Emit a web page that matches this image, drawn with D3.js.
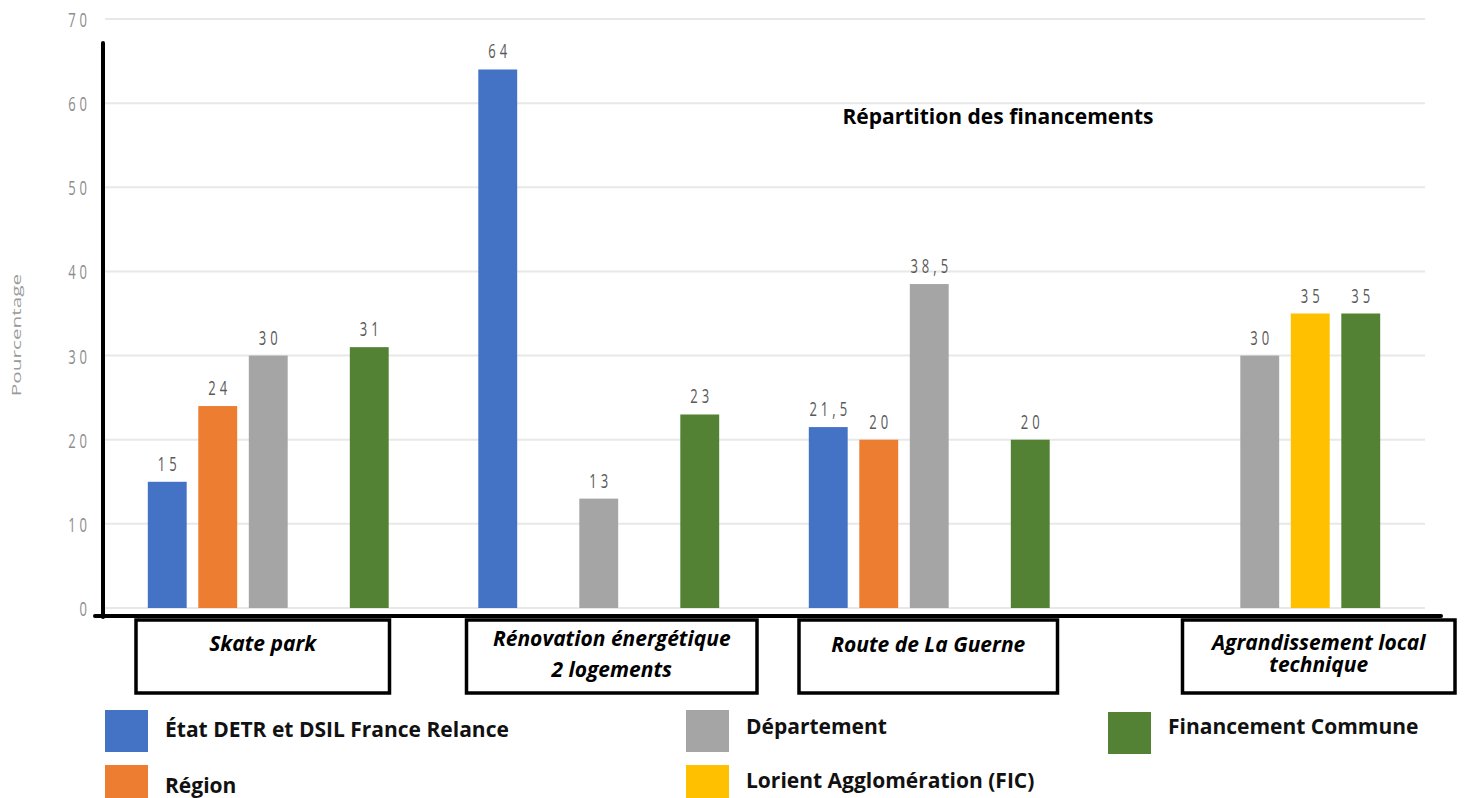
<!DOCTYPE html>
<html><head><meta charset="utf-8">
<script src="https://cdn.jsdelivr.net/npm/d3@7/dist/d3.min.js"></script>
<style>
html,body{margin:0;padding:0;background:#fff;}
svg{display:block;font-family:"Open Sans",sans-serif;}
</style></head>
<body><svg id="c" width="1469" height="798"></svg>
<script>
// ---- data ----
const categories = ["Skate park", "Rénovation énergétique|2 logements", "Route de La Guerne", "Agrandissement local|technique"];
const seriesNames = ["État DETR et DSIL France Relance", "Région", "Département", "Lorient Agglomération (FIC)", "Financement Commune"];
const etat = [15, 64, 21.5, null];
const region = [24, null, 20, null];
const departement = [30, 13, 38.5, 30];
const lorient = [null, null, null, 35];
const commune = [31, 23, 20, 35];
const yTicks = [0, 10, 20, 30, 40, 50, 60, 70];
const seriesColors = ["#4472C4", "#ED7D31", "#A5A5A5", "#FFC000", "#548235"];
const title = "Répartition des financements";
const yTitle = "Pourcentage";

// ---- layout ----
const svg = d3.select("#c");
const values = [etat, region, departement, lorient, commune];
const x0 = d3.scaleBand().domain(categories).range([103, 1425]).paddingInner(0.236).paddingOuter(0.118);
const x1 = d3.scaleBand().domain(seriesNames).range([0, x0.bandwidth()]).paddingInner(0.23).paddingOuter(0.115);
const y = d3.scaleLinear().domain([0, 70]).range([608, 19]);
const color = d3.scaleOrdinal().domain(seriesNames).range(seriesColors);
const STRETCH = 1.6; // small chart texts are vertically stretched in the reference

// gridlines
svg.append("g").selectAll("line").data(yTicks).join("line")
  .attr("x1", 105).attr("x2", 1425)
  .attr("y1", d => y(d)).attr("y2", d => y(d))
  .attr("stroke", "#e8e8e8").attr("stroke-width", 2);

// tick labels (axis generator for positions)
const yAxis = d3.axisLeft(y).tickValues(yTicks).tickSize(0).tickPadding(0).tickFormat(d3.format("d"));
const ya = svg.append("g").attr("transform", "translate(91,0)").call(yAxis);
ya.select(".domain").remove();
ya.selectAll("text").attr("font-family", "'Open Sans',sans-serif").attr("font-size", 13)
  .attr("fill", "#8c8c8c").attr("letter-spacing", "4px").attr("dy", null)
  .attr("transform", `translate(0,${0.36 * 13 * STRETCH}) scale(1,${STRETCH})`);

// y title
svg.append("text").attr("transform", `translate(21,335) rotate(-90) scale(${STRETCH},1)`)
  .attr("text-anchor", "middle").attr("font-size", 13).attr("fill", "#9a9a9a").text(yTitle);

// bars
const data = [];
categories.forEach((c, i) => seriesNames.forEach((s, j) => {
  if (values[j][i] != null) data.push({c, s, v: values[j][i]});
}));
svg.append("g").selectAll("rect").data(data).join("rect")
  .attr("x", d => x0(d.c) + x1(d.s)).attr("width", x1.bandwidth())
  .attr("y", d => y(d.v)).attr("height", d => y(0) - y(d.v))
  .attr("fill", d => color(d.s));

// value labels
const fmt = v => String(v).replace(".", ",");
svg.append("g").selectAll("text").data(data).join("text")
  .attr("transform", d => `translate(${x0(d.c) + x1(d.s) + x1.bandwidth() / 2 + 2},${y(d.v) - 11}) scale(1,${STRETCH})`)
  .attr("text-anchor", "middle").attr("font-size", 13).attr("letter-spacing", "4px")
  .attr("fill", "#595959").text(d => fmt(d.v));

// axis lines (thick black)
svg.append("line").attr("x1", 103).attr("x2", 103).attr("y1", 43).attr("y2", 617)
  .attr("stroke", "#000").attr("stroke-width", 4).attr("stroke-linecap", "round");
svg.append("line").attr("x1", 95).attr("x2", 1441).attr("y1", 616).attr("y2", 616)
  .attr("stroke", "#000").attr("stroke-width", 4).attr("stroke-linecap", "round");

// title
svg.append("text").attr("x", 998).attr("y", 124).attr("text-anchor", "middle")
  .attr("font-size", 21).attr("font-weight", 700).attr("fill", "#000").text(title);

// category boxes (annotation layout: left/right offsets from band edges, baselines)
const boxOffsets = [[-6, -5], [-6, 32], [-4, 2], [49, 69]];
const boxTop = 620, boxBottom = 693;
const labelBaselines = [[651], [646, 677], [652], [650, 672]];
categories.forEach((c, i) => {
  const bx = x0(c) + boxOffsets[i][0];
  const bw = x0.bandwidth() - boxOffsets[i][0] + boxOffsets[i][1];
  svg.append("rect").attr("x", bx).attr("y", boxTop).attr("width", bw).attr("height", boxBottom - boxTop)
    .attr("fill", "#fff").attr("stroke", "#000").attr("stroke-width", 3.5);
  const t = svg.append("text").attr("text-anchor", "middle").attr("font-size", 21).attr("font-weight", 700)
    .attr("font-style", "italic").attr("fill", "#000");
  c.split("|").forEach((l, k) => {
    t.append("tspan").attr("x", bx + bw / 2).attr("y", labelBaselines[i][k]).text(l);
  });
});

// legend
const legendPos = [[105, 710], [105, 765], [686, 710], [686, 765], [1108, 712]];
const legendBaselines = [737, 793, 734, 788, 734];
seriesNames.forEach((s, j) => {
  const [lx, ly] = legendPos[j];
  svg.append("rect").attr("x", lx).attr("y", ly).attr("width", 43).attr("height", 42).attr("fill", color(s));
  svg.append("text").attr("x", lx + 60).attr("y", legendBaselines[j])
    .attr("font-size", 21).attr("font-weight", 700).attr("fill", "#111").text(s);
});
</script>
</body></html>
